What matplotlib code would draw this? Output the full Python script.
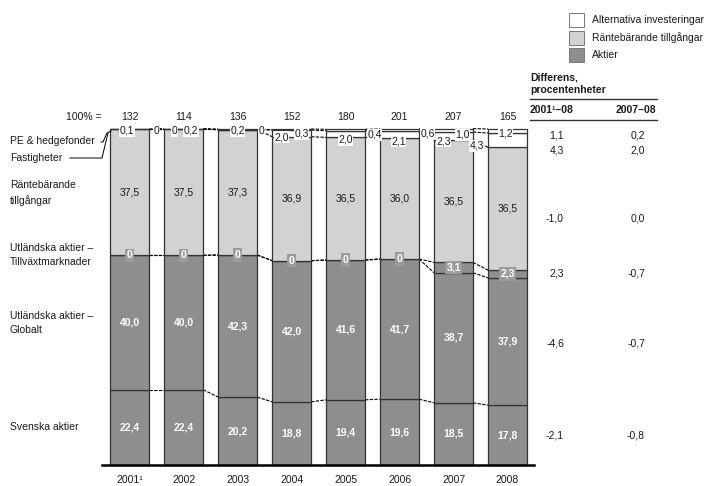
import matplotlib
matplotlib.use("Agg")
import matplotlib.pyplot as plt
from matplotlib.patches import Rectangle
from matplotlib.lines import Line2D

plt.rcParams['font.family'] = ['Liberation Sans', 'DejaVu Sans']
plt.rcParams['font.size'] = 7.5

# data (percent of total, bottom to top)
years = ['2001¹', '2002', '2003', '2004', '2005', '2006', '2007', '2008']
totals = [132, 114, 136, 152, 180, 201, 207, 165]
svenska = [22.4, 22.4, 20.2, 18.8, 19.4, 19.6, 18.5, 17.8]
globalt = [40.0, 40.0, 42.3, 42.0, 41.6, 41.7, 38.7, 37.9]
tillvaxt = [0, 0, 0, 0, 0, 0, 3.1, 2.3]
rante = [37.5, 37.5, 37.3, 36.9, 36.5, 36.0, 36.5, 36.5]
fastigheter = [0, 0, 0, 2.0, 2.0, 2.1, 2.3, 4.3]
pe_hedge = [0.1, 0.2, 0.2, 0.3, 0.4, 0.6, 1.0, 1.2]

# differences, rows top to bottom: PE, Fastigheter, Räntebärande, Tillväxt, Globalt, Svenska
diff_0108 = [1.1, 4.3, -1.0, 2.3, -4.6, -2.1]
diff_0708 = [0.2, 2.0, 0.0, -0.7, -0.7, -0.8]

DARK = '#8e8e8e'
LIGHT = '#d2d2d2'
EDGE = '#333333'
TXT = '#1a1a1a'

W, H = 711, 486


def fmt(v):
    if v == 0:
        return '0'
    return f"{v:.1f}".replace('.', ',')


def fx(x):
    return x / W


def fy(y):
    return 1 - y / H


fig = plt.figure(figsize=(W / 100, H / 100), dpi=100)
ax = fig.add_axes([0, 0, 1, 1])
ax.set_xlim(-129.8 / 53.96, (W - 129.8) / 53.96)
ax.set_ylim(-(H - 465) / 3.36, 465 / 3.36)
ax.axis('off')

series = [svenska, globalt, tillvaxt, rante, fastigheter, pe_hedge]
colors = [DARK, DARK, DARK, LIGHT, 'white', 'white']
bw = 0.72
x = list(range(len(years)))

bottoms = [[0.0] * len(years)]
for s in series:
    prev = bottoms[-1]
    bottoms.append([p + v for p, v in zip(prev, s)])

for k, (s, c) in enumerate(zip(series, colors)):
    ax.bar(x, s, bw, bottom=bottoms[k], color=c, edgecolor=EDGE, linewidth=0.9, zorder=2)

# connectors between bars
for k in range(1, len(bottoms)):
    for i in range(len(years) - 1):
        ax.plot([i + bw / 2, i + 1 - bw / 2], [bottoms[k][i], bottoms[k][i + 1]],
                color='black', lw=0.8, ls=(0, (3, 1.2)), zorder=1)

# baseline
ax.plot([-0.515, 7.49], [0, 0], color='black', lw=1.8, zorder=3)

# segment labels
for i in x:
    mid = lambda k: (bottoms[k][i] + bottoms[k + 1][i]) / 2
    ax.text(i, mid(0), fmt(svenska[i]), ha='center', va='center', color='white',
            fontweight='bold', zorder=4)
    ax.text(i, mid(1), fmt(globalt[i]), ha='center', va='center', color='white',
            fontweight='bold', zorder=4)
    ax.text(i, mid(2), fmt(tillvaxt[i]), ha='center', va='center', color='white',
            fontweight='bold', zorder=4,
            bbox=dict(boxstyle='square,pad=0.15', fc='#9c9c9c', ec='none'))
    ax.text(i, mid(3), fmt(rante[i]), ha='center', va='center', color=TXT, zorder=4)
    ax.text(i, (465 - 117) / 3.36, str(totals[i]), ha='center', va='center', color=TXT)
    ax.text(i, -4.6, years[i], ha='center', va='center', color=TXT)

# small top labels (offset px from bar centre, y px)
fast_pos = [(27, 131), (-9, 131), (24, 131), (-10, 137), (0, 140), (-1, 141), (-10, 141), (-31, 146)]
pe_pos = [(-3, 131), (7, 131), (0, 131), (10, 134), (29, 135), (28, 134), (9, 135), (-2, 134)]
for i in x:
    for v, (dx, yp) in ((fastigheter[i], fast_pos[i]), (pe_hedge[i], pe_pos[i])):
        ax.text(i + dx / 53.96, (465 - yp) / 3.36, fmt(v), ha='center', va='center',
                color=TXT, zorder=5,
                bbox=dict(boxstyle='square,pad=0.05', fc='white', ec='none'))

# left category labels
fig.text(fx(102), fy(117), '100% =', ha='right', va='center', color=TXT)
left_labels = [('PE & hedgefonder', 141), ('Fastigheter', 158),
               ('Räntebärande\ntillgångar', 193), ('Utländska aktier –\nTillväxtmarknader', 255),
               ('Utländska aktier –\nGlobalt', 323), ('Svenska aktier', 427)]
for txt, yp in left_labels:
    fig.text(fx(10), fy(yp), txt, ha='left', va='center', color=TXT, linespacing=1.5)

fig.add_artist(Line2D([fx(101), fx(103), fx(107), fx(111)],
                      [fy(142), fy(142), fy(133), fy(131)], color='black', lw=0.7))
fig.add_artist(Line2D([fx(70), fx(102), fx(108)], [fy(158), fy(158), fy(133)],
                      color='black', lw=0.7))

# legend
legend_items = [('white', 'Alternativa investeringar', 20), (LIGHT, 'Räntebärande tillgångar', 38),
                (DARK, 'Aktier', 55)]
for c, txt, yp in legend_items:
    fig.add_artist(Rectangle((fx(569), fy(yp + 7)), 15 / W, 14 / H, transform=fig.transFigure,
                             fc=c, ec='#777777', lw=0.7))
    fig.text(fx(592), fy(yp), txt, ha='left', va='center', color=TXT)

# difference table
fig.text(fx(530), fy(77), 'Differens,', ha='left', va='center', fontweight='bold', color=TXT)
fig.text(fx(530), fy(90), 'procentenheter', ha='left', va='center', fontweight='bold', color=TXT)
fig.add_artist(Line2D([fx(530), fx(657)], [fy(99), fy(99)], color='#333333', lw=1.0))
fig.text(fx(530), fy(110), '2001¹–08', ha='left', va='center', fontweight='bold', color=TXT)
fig.text(fx(656), fy(110), '2007–08', ha='right', va='center', fontweight='bold', color=TXT)
fig.add_artist(Line2D([fx(530), fx(657)], [fy(120), fy(120)], color='#333333', lw=1.0))

row_y = [135, 150, 218, 274, 343, 435]
for a, b, yp in zip(diff_0108, diff_0708, row_y):
    fig.text(fx(564), fy(yp), fmt(a) if a != 0 else '0,0', ha='right', va='center', color=TXT)
    fig.text(fx(645), fy(yp), fmt(b) if b != 0 else '0,0', ha='right', va='center', color=TXT)

fig.savefig('out.png', dpi=100)
